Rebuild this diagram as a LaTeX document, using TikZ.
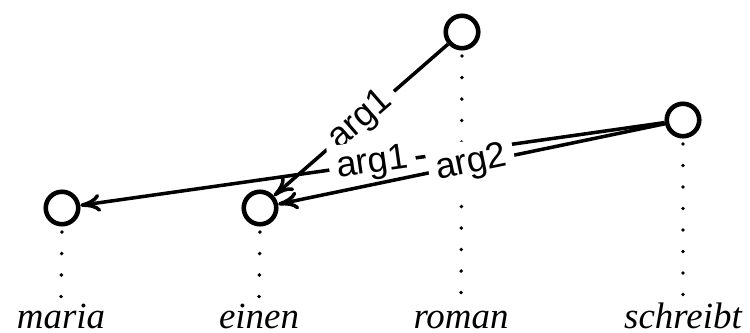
\documentclass[tikz,border=0pt]{standalone}
\usepackage{fontspec}
\setmainfont{Liberation Serif}
\setsansfont{Liberation Sans}
\usetikzlibrary{arrows.meta}

\begin{document}
\begin{tikzpicture}[x=.2mm,y=.2mm]
\tikzset{
  pt/.style={circle,draw,line width=2.6pt,minimum size=6.5mm,inner sep=0pt},
  wd/.style={anchor=base,inner sep=0pt,font=\fontsize{21}{21}\selectfont\itshape},
  dep/.style={line width=2.2pt,line cap=round,dash pattern=on 0pt off 4.3mm,shorten <=1.1mm},
  arg/.style={->,>={Computer Modern Rightarrow[length=4mm,width=3.6mm]},line width=2pt},
  lab/.style={midway,sloped,fill=white,inner sep=1.5mm,font=\fontsize{20.5}{20.5}\selectfont\sffamily}
}
\useasboundingbox (0,0) rectangle (750,332);

\node[pt] (M) at (62,124) {};
\node[pt] (E) at (260,124) {};
\node[pt] (R) at (462,300) {};
\node[pt] (S) at (683,212) {};

\node[wd] (Mt) at (61,4) {maria};
\node[wd] (Et) at (259,4) {einen};
\node[wd] (Rt) at (461,4) {roman};
\node[wd] (St) at (683,4) {schreibt};

% dotted projection lines
\draw[dep] (M.south) -- (Mt.north);
\draw[dep] (E.south) -- (Et.north);
\draw[dep] (R.south) -- (Rt.north);
\draw[dep] (S.south) -- (St.north);

\draw[arg] (R) -- node[lab]{arg1} (E);
\draw[arg] (S) -- node[lab]{arg1} (M);
\draw[arg] (S) -- node[lab]{arg2} (E);

\end{tikzpicture}
\end{document}
